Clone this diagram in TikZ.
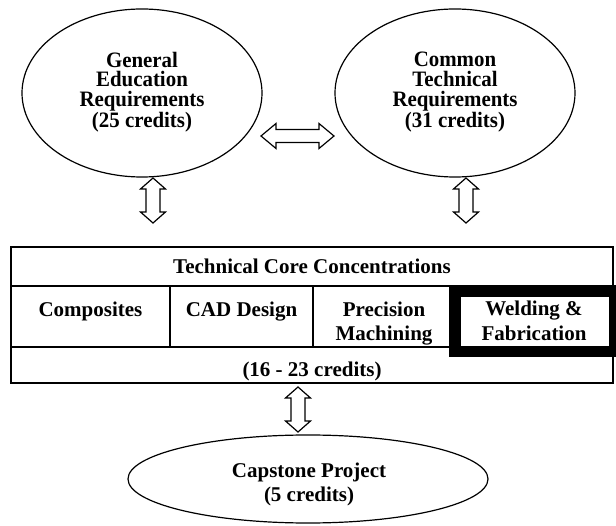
\documentclass[tikz,border=0pt]{standalone}
\usepackage{fontspec}
\setmainfont{Liberation Serif}
\newfontfamily\ovalfont[FakeStretch=0.95]{Liberation Serif}
\usetikzlibrary{shapes.geometric,calc}
\tikzset{
  oval/.style={draw, ellipse, line width=1.2pt, inner sep=0pt},
  ovaltext/.style={align=center, font=\ovalfont\fontsize{22}{19.6}\selectfont\bfseries},
  celltext/.style={align=center, font=\fontsize{21}{24.5}\selectfont\bfseries},
  thin cell/.style={draw, line width=1.3pt},
  mid cell/.style={draw, line width=2.3pt},
  thick cell/.style={draw, line width=11.5pt, line join=miter},
  fat/.style={draw, line width=1.2pt, line join=miter, fill=white}
}
\newcommand\vfat[2]{\draw[fat] (#1) -- ($(#1)+(12.5,11)$) -- ($(#1)+(7,11)$) -- ($(#2)+(7,-11)$) -- ($(#2)+(12.5,-11)$) -- (#2) -- ($(#2)+(-12.5,-11)$) -- ($(#2)+(-7,-11)$) -- ($(#1)+(-7,11)$) -- ($(#1)+(-12.5,11)$) -- cycle;}
\newcommand\hfat[2]{\draw[fat] (#1) -- ($(#1)+(15,-12.5)$) -- ($(#1)+(15,-6.5)$) -- ($(#2)+(-15,-6.5)$) -- ($(#2)+(-15,-12.5)$) -- (#2) -- ($(#2)+(-15,12.5)$) -- ($(#2)+(-15,6.5)$) -- ($(#1)+(15,6.5)$) -- ($(#1)+(15,12.5)$) -- cycle;}
\begin{document}
\begin{tikzpicture}[x=1pt,y=-1pt]
\useasboundingbox (0,0) rectangle (616,526);
% ellipses
\node[oval, minimum width=240pt, minimum height=168pt] (gen) at (142,93) {};
\node[ovaltext] (gentext) at (142,92) {General\\Education\\Requirements\\(25 credits)};
\node[oval, minimum width=240pt, minimum height=168pt] (com) at (455,93) {};
\node[ovaltext] (comtext) at (455,92) {Common\\Technical\\Requirements\\(31 credits)};
\node[oval, minimum width=360pt, minimum height=88pt] (cap) at (308,479) {};
\node[celltext] (captext) at (309,484.5) {Capstone Project\\(5 credits)};
% table
\draw[thin cell] (11,247) rectangle (613,383);
\draw[thin cell] (11,286) -- (613,286);
\draw[thin cell] (11,347) -- (613,347);
\draw[thin cell] (170,286) -- (170,347);
\draw[mid cell] (313,286) rectangle (455,347);
\draw[thick cell] (455,291) rectangle (614.5,351.5);
\node[celltext, anchor=base] (hdr) at (312,273.3) {Technical Core Concentrations};
\node[celltext, anchor=base] (compo) at (90.5,317) {Composites};
\node[celltext, anchor=base] (cad) at (241.5,317) {CAD Design};
\node[celltext] (prec) at (384,323.3) {Precision\\Machining};
\node[celltext] (weld) at (534,321) {Welding \&\\Fabrication};
\node[celltext, anchor=base] (cred) at (312,377) {(16 - 23 credits)};
% arrow end points
\coordinate (h1) at (261,136);
\coordinate (h2) at (334,136);
\coordinate (l1) at (153,178);
\coordinate (l2) at (153,223);
\coordinate (r1) at (466,178);
\coordinate (r2) at (466,223);
\coordinate (b1) at (298,387);
\coordinate (b2) at (298,432);
\hfat{h1}{h2}
\vfat{l1}{l2}
\vfat{r1}{r2}
\vfat{b1}{b2}
\end{tikzpicture}
\end{document}
